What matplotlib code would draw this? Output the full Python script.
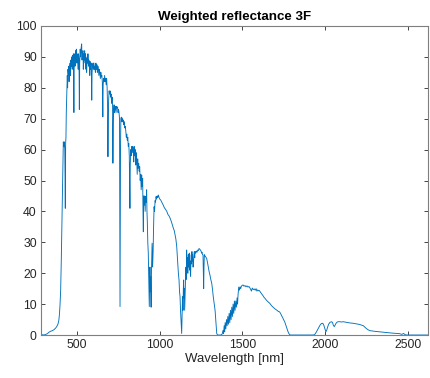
import matplotlib
matplotlib.use("Agg")
import matplotlib.pyplot as plt

# (wavelength nm, weighted reflectance), by band
uv_blue = [(280, 0.0), (290, 0.1), (300, 0.0), (310, 0.2), (320, 0.4), (330, 0.9),
           (340, 1.2), (350, 1.4), (360, 1.7), (370, 2.2), (378, 2.8), (385, 3.6),
           (390, 4.8), (394, 7.0), (397, 9.7), (401, 14.6), (405, 25), (409, 38),
           (413, 52), (417, 62.5), (421, 61), (423, 62.5), (426, 60), (429, 41),
           (431, 62), (433, 64), (435, 72), (438, 78), (441, 84), (443, 80),
           (445, 86), (448, 84), (450, 87), (452, 82), (455, 86.5), (458, 88),
           (460, 84), (463, 89), (466, 87), (468, 90), (471, 86), (473, 90.5),
           (476, 88), (478, 91), (481, 72), (483, 89), (486, 91), (488, 87),
           (491, 92), (494, 89), (496, 92.5), (499, 88)]
visible = [(501, 91), (504, 90), (507, 86), (509, 91), (512, 89), (514, 73),
           (516, 88), (519, 92.5), (522, 90), (525, 93), (528, 94.2), (530, 89),
           (533, 91), (536, 92), (538, 86), (541, 91), (544, 89), (546, 92),
           (549, 88), (551, 91), (554, 86), (556, 89.5), (558, 85), (561, 90),
           (564, 88), (566, 91), (569, 87), (571, 89), (574, 88.5), (577, 84),
           (579, 88.5), (582, 86), (585, 88), (587, 84), (589, 76), (591, 85),
           (594, 87.5), (597, 88), (599, 86), (602, 88), (605, 86), (608, 87),
           (611, 85), (614, 88), (617, 86), (620, 87.5), (623, 85), (626, 87),
           (629, 86), (632, 84), (635, 86), (638, 85), (641, 83), (644, 85),
           (647, 83.5), (650, 84), (653, 82), (656, 70.6), (658, 81), (661, 83),
           (664, 82), (667, 84), (670, 82), (673, 83), (676, 81), (679, 83),
           (682, 80), (685, 73), (687, 57.7), (689, 70), (691, 76), (694, 79),
           (697, 78), (700, 79)]
red_edge = [(703, 77), (706, 78), (709, 75), (712, 77), (715, 74), (717, 55.6),
            (719, 68), (721, 73), (724, 74.5), (727, 72), (730, 73.5), (733, 74),
            (736, 72), (739, 74), (742, 73.5), (745, 73.8), (748, 72), (751, 73),
            (754, 72), (757, 70), (759, 30), (760, 9.2), (761, 25), (763, 60),
            (765, 70), (768, 70.5), (771, 69), (774, 70.2), (777, 69), (780, 69.6),
            (783, 68), (786, 69), (789, 67), (792, 67.5), (795, 66), (798, 64),
            (801, 65), (804, 63), (807, 64), (810, 61), (813, 62), (816, 58),
            (818, 50), (820, 41), (822, 55), (825, 60), (828, 58), (831, 61),
            (834, 59), (837, 61), (840, 60), (843, 56), (846, 61), (849, 58),
            (852, 60), (855, 55), (858, 59), (861, 56.6), (864, 52), (867, 57),
            (870, 54), (873, 55.5), (876, 53), (879, 54.5), (882, 50), (885, 52),
            (888, 47), (891, 51.8), (894, 48), (897, 50.7)]
nir_1 = [(899, 40), (901, 33.4), (903, 45), (906, 42), (909, 45), (912, 40),
         (915, 44.8), (918, 43), (921, 47), (923, 40), (925, 37), (928, 30),
         (931, 26.5), (934, 18), (937, 9.2), (939, 15), (941, 22), (943, 14),
         (945, 18.9), (947, 12), (948, 9), (950, 20), (952, 25), (954, 29.7),
         (957, 22), (960, 26.5), (963, 35), (966, 41.5), (969, 40), (972, 43.5),
         (975, 43), (978, 44.8), (981, 44), (985, 45), (988, 44.5), (992, 45.3),
         (996, 44.5), (1000, 44), (1006, 43.7), (1012, 43), (1017, 42.5),
         (1022, 42), (1028, 41.2), (1035, 40.7), (1043, 40), (1050, 39),
         (1057, 38.5), (1063, 37.8), (1070, 36.8), (1077, 35.5), (1083, 34.5),
         (1088, 33.8), (1093, 32.4), (1098, 31), (1103, 28.6), (1106, 26),
         (1109, 23.2), (1113, 20), (1117, 17.8), (1120, 14), (1123, 12.4),
         (1126, 8), (1129, 4.9), (1131, 2.5), (1133, 0.5), (1135, 5), (1137, 10),
         (1139, 12.4), (1141, 8), (1143, 15), (1145, 17.8), (1147, 12),
         (1149, 15), (1151, 8), (1153, 12), (1155, 16), (1157, 19), (1159, 22),
         (1161, 18), (1163, 27.5)]
nir_2 = [(1165, 22), (1167, 25), (1169, 20), (1171, 20), (1173, 26), (1175, 22),
         (1177, 25), (1179, 26.5), (1181, 21), (1183, 24), (1185, 22), (1187, 19),
         (1189, 24), (1191, 26), (1193, 23), (1195, 27), (1197, 24), (1199, 26),
         (1201, 22), (1203, 22), (1206, 25), (1209, 27), (1212, 25), (1214, 27),
         (1218, 26.5), (1222, 27.2), (1226, 26.8), (1230, 27.5), (1234, 27.3),
         (1238, 28), (1242, 27.8), (1246, 27.5), (1250, 27.2), (1253, 26.5),
         (1256, 26.8), (1259, 26), (1262, 25.9), (1264, 20), (1266, 15),
         (1268, 22), (1270, 26), (1274, 25.6), (1279, 25.2), (1284, 24.8),
         (1289, 23.5), (1294, 22), (1299, 20.5), (1304, 19.4), (1309, 18),
         (1315, 16.7), (1320, 14.5), (1324, 12.4), (1330, 10), (1335, 8),
         (1340, 4), (1343, 1.5), (1345, 0.5), (1350, 0), (1360, 0), (1370, 0)]
swir_1 = [(1378, 0.3), (1383, 1.5), (1386, 0.5), (1390, 3), (1393, 1), (1396, 4),
          (1400, 2), (1404, 5), (1408, 3), (1412, 6), (1416, 3.5), (1420, 7),
          (1424, 4), (1428, 8), (1432, 5), (1436, 9), (1440, 6), (1444, 10),
          (1448, 7), (1452, 11), (1456, 8), (1460, 11), (1464, 9), (1468, 12),
          (1471, 10), (1474, 13), (1478, 15.5), (1482, 14.5), (1486, 15.6),
          (1490, 15), (1494, 15.8), (1498, 16), (1504, 16.2), (1510, 15.8),
          (1516, 16), (1522, 15.6), (1528, 15.9), (1534, 15.5), (1540, 15.7),
          (1545, 15.3), (1550, 14.8), (1555, 14.2), (1560, 15.2), (1566, 14.7),
          (1572, 14.9), (1578, 14.5), (1583, 15), (1588, 14.2), (1593, 14.6),
          (1598, 14.3), (1603, 14.4), (1610, 13.8), (1617, 13.3), (1624, 12.8),
          (1631, 12.2), (1638, 11.8), (1645, 11.3), (1652, 10.9), (1658, 10.6),
          (1665, 10.3), (1672, 9.8), (1680, 9.3), (1688, 8.9), (1696, 8.5),
          (1704, 8.2), (1712, 7.9), (1718, 7.6), (1725, 7.5), (1732, 6.9),
          (1738, 6.2), (1744, 5.6), (1750, 4.9), (1756, 4.3), (1762, 3.4),
          (1768, 2.4), (1774, 1.4), (1780, 0.6), (1786, 0.1), (1790, 0),
          (1850, 0), (1900, 0), (1930, 0)]
swir_2 = [(1940, 0.3), (1950, 1.2), (1960, 2.2), (1970, 3.2), (1978, 3.7),
          (1986, 3.8), (1992, 3.3), (1998, 2.2), (2003, 1.4), (2006, 1.1),
          (2010, 1.5), (2016, 2.6), (2022, 3.5), (2030, 4.1), (2040, 4.3),
          (2046, 4.0), (2050, 3.2), (2056, 2.7), (2062, 3.3), (2068, 3.9),
          (2074, 4.2), (2080, 4.3), (2090, 4.3), (2100, 4.2), (2110, 4.3),
          (2120, 4.2), (2130, 4.1), (2140, 4.0), (2150, 3.9), (2160, 3.85),
          (2170, 3.8), (2180, 3.7), (2192, 3.6), (2200, 3.5), (2210, 3.4),
          (2220, 3.2), (2232, 3.0), (2240, 2.6), (2250, 2.1), (2260, 1.7),
          (2273, 1.4), (2285, 1.3), (2300, 1.2), (2320, 1.1), (2340, 1.0),
          (2353, 0.9), (2370, 0.8), (2390, 0.7), (2410, 0.6), (2434, 0.5),
          (2450, 0.45), (2465, 0.2), (2475, 0.5), (2485, 0.1), (2494, 0),
          (2520, 0), (2560, 0), (2600, 0), (2625, 0)]

x_ticks = [500, 1000, 1500, 2000, 2500]
y_ticks = [0, 10, 20, 30, 40, 50, 60, 70, 80, 90, 100]
title = "Weighted reflectance 3F"
x_label = "Wavelength [nm]"

bands = [uv_blue, visible, red_edge, nir_1, nir_2, swir_1, swir_2]
wl = [p[0] for b in bands for p in b]
refl = [p[1] for b in bands for p in b]

plt.rcParams['font.family'] = ['Liberation Sans', 'DejaVu Sans']

fig = plt.figure(figsize=(4.30, 3.78), dpi=100)
ax = fig.add_axes([41 / 430, 43 / 378, 387 / 430, 309 / 378])
ax.plot(wl, refl, color='#0072BD', lw=0.65)

ax.set_xlim(282, 2623)
ax.set_ylim(0, 100)
ax.set_xticks(x_ticks)
ax.set_yticks(y_ticks)
ax.tick_params(direction='in', length=3, width=0.6, colors='#262626',
               labelsize=8.8, top=True, right=True, pad=3)
for s in ax.spines.values():
    s.set_color('#7f7f7f')
    s.set_linewidth(0.8)
ax.set_title(title, fontsize=9.6, fontweight='bold', color='black', pad=4)
ax.set_xlabel(x_label, fontsize=9.5, color='#262626', labelpad=1)

fig.savefig('out.png', dpi=100)
